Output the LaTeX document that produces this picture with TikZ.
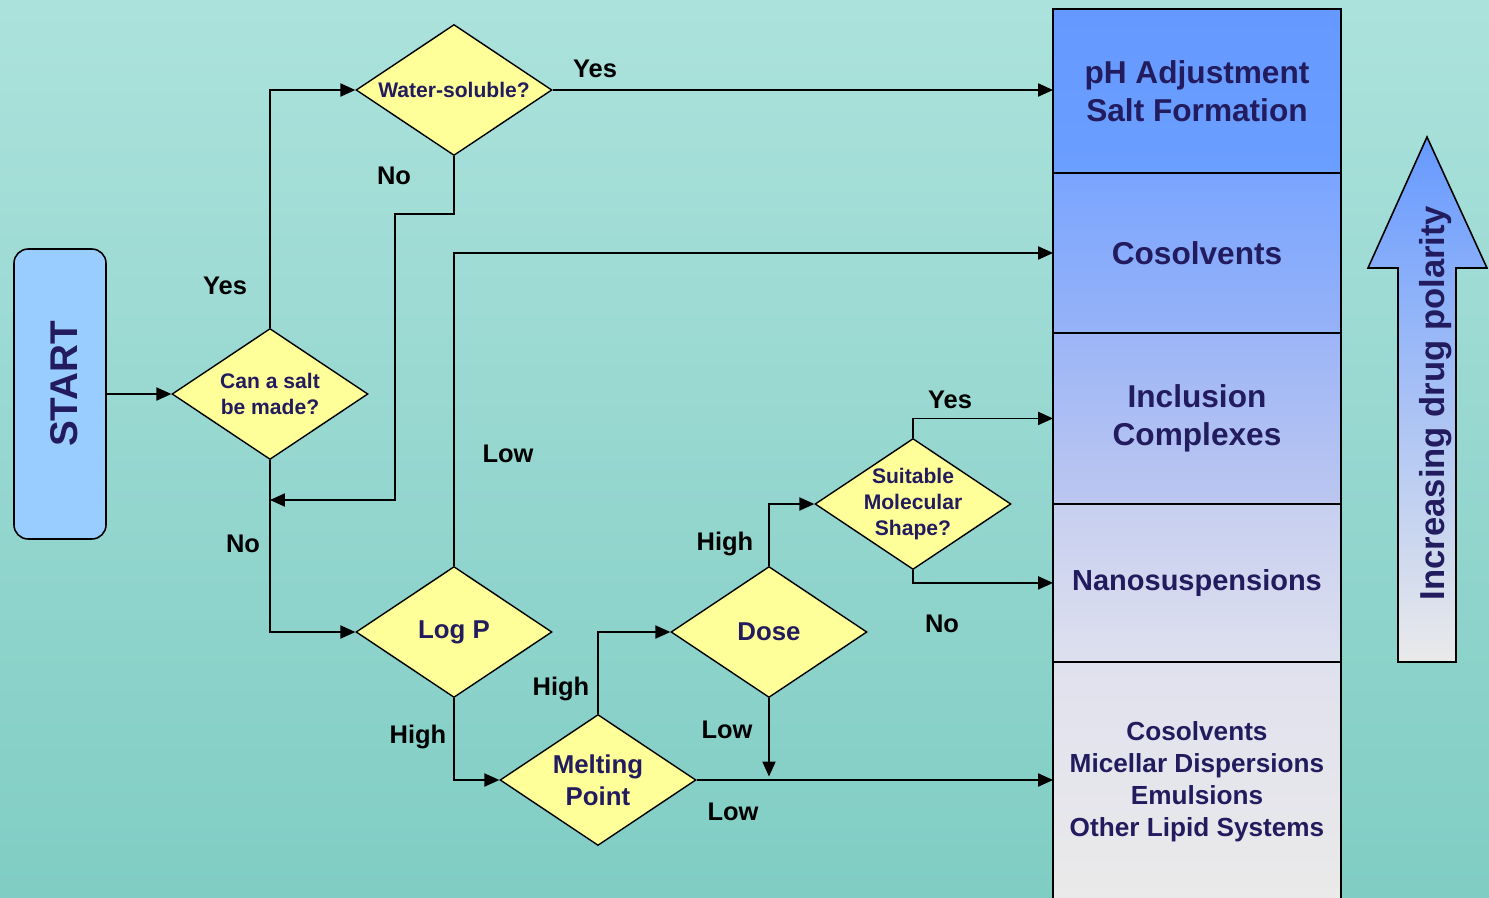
\documentclass[tikz,border=0pt]{standalone}
\usepackage{fontspec}
\setmainfont{Liberation Sans}
\usepackage{xcolor}
\usepackage{tikz}
\usetikzlibrary{arrows.meta,positioning,calc,shapes.geometric}
\definecolor{navytext}{RGB}{34,28,94}
\definecolor{qfill}{RGB}{255,255,153}
\definecolor{startfill}{RGB}{153,204,255}
\definecolor{bgtop}{RGB}{172,226,220}
\definecolor{bgbot}{RGB}{128,205,196}
\definecolor{polA}{RGB}{102,153,255}
\definecolor{polB}{RGB}{234,234,234}
\tikzset{
  decision/.style={draw, diamond, aspect=1.5, line width=0.8pt, fill=qfill, text=navytext, align=center, inner sep=0pt, minimum width=3.92cm, minimum height=2.62cm, font=\bfseries\fontsize{12}{14.6}\selectfont},
  bigdecision/.style={decision, font=\bfseries\fontsize{14.7}{18}\selectfont},
  startbox/.style={draw, rounded corners=8pt, line width=0.9pt, fill=startfill, text=navytext, minimum width=1.84cm, minimum height=5.8cm, font=\bfseries\fontsize{22}{26}\selectfont},
  methodbox/.style={draw, line width=1.1pt, outer sep=0pt, minimum width=5.76cm, align=center, text=navytext, font=\bfseries\fontsize{18}{21.5}\selectfont},
  tag/.style={font=\bfseries\fontsize{14.5}{17}\selectfont, text=black},
  line/.style={-{Triangle[length=8.5pt,width=7.5pt]}, line width=0.8pt}
}

\begin{document}
\begin{tikzpicture}[x=0.02cm, y=-0.02cm]
  % background
  \useasboundingbox (0,0) rectangle (1489,897);
  \fill[top color=bgtop, bottom color=bgbot] (0,0) rectangle (1489,897);

  % questions
  \node[startbox] (start) at (60,394) {\rotatebox{90}{\hspace{0.4cm}START\rule{0pt}{20.5pt}}};
  \node[decision] (can) at (270,394) {Can a salt\\be made?};
  \node[decision] (water) at (454,90) {Water-soluble?};
  \node[bigdecision] (logp) at (454,632) {Log P};
  \node[bigdecision] (dose) at (769,632) {Dose};
  \node[bigdecision] (melt) at (598,780) {Melting\\Point};
  \node[decision, inner sep=-6pt] (shape) at (913,504) {Suitable\\Molecular\\Shape?};

  % formulation approaches
  \node[methodbox, minimum height=3.28cm, top color=polA, bottom color={rgb,255:red,106;green,158;blue,255}] (ph) at (1197,91) {pH Adjustment\\Salt Formation};
  \node[methodbox, minimum height=3.2cm, below=0pt of ph, top color={rgb,255:red,122;green,165;blue,255}, bottom color={rgb,255:red,150;green,178;blue,247}] (cos) {Cosolvents};
  \node[methodbox, minimum height=3.42cm, below=0pt of cos, top color={rgb,255:red,156;green,181;blue,247}, bottom color={rgb,255:red,188;green,199;blue,240}] (incl) {Inclusion\\Complexes};
  \node[methodbox, minimum height=3.16cm, below=0pt of incl, top color={rgb,255:red,199;green,207;blue,240}, bottom color={rgb,255:red,221;green,224;blue,238}, font=\bfseries\fontsize{16.5}{20}\selectfont] (nano) {Nanosuspensions};
  \node[methodbox, minimum height=4.8cm, below=0pt of nano, top color={rgb,255:red,224;green,225;blue,238}, bottom color=polB, font=\bfseries\fontsize{14.9}{18.1}\selectfont] (lipid) {Cosolvents\\Micellar Dispersions\\Emulsions\\Other Lipid Systems};

  % polarity arrow
  \draw[line width=0.9pt, top color=polA, bottom color=polB] (1398,662) -- (1398,268) -- (1368,268) -- (1427,137) -- (1487,268) -- (1456,268) -- (1456,662) -- cycle;
  \node[rotate=90, text=navytext, font=\bfseries\fontsize{19.7}{22}\selectfont] (polarity) at (1436,403) {Increasing drug polarity};

  % connectors
  \coordinate (merge) at (270,500);
  \draw[line] (start) -- (can);
  \draw[line] (can.north) |- (water.west);
  \draw[line] (water.east) -- (water.east -| ph.west);
  \draw[line] (water.south) |- (395,214) |- (merge);
  \draw[line] (can.south) |- (logp.west);
  \draw[line] (logp.north) |- (cos.west);
  \draw[line] (logp.south) |- (melt.west);
  \draw[line] (melt.north) |- (dose.west);
  \draw[line] (melt.east) -- (melt.east -| lipid.west);
  \draw[line, shorten >=2pt] (dose.south) -- (dose.south |- melt.east);
  \draw[line] (dose.north) |- (shape.west);
  \draw[line] (shape.north) |- (incl.west);
  \draw[line] (shape.south) |- (nano.west);

  % answers
  \node[tag] (canyes) at (225,286) {Yes};
  \node[tag] (canno) at (243,544) {No};
  \node[tag] (wateryes) at (595,69) {Yes};
  \node[tag] (waterno) at (394,176) {No};
  \node[tag] (logplow) at (508,454) {Low};
  \node[tag] (logphigh) at (418,737) {High};
  \node[tag] (melthigh) at (561,689) {High};
  \node[tag] (meltlow) at (733,812) {Low};
  \node[tag] (doselow) at (727,730) {Low};
  \node[tag] (dosehigh) at (725,544) {High};
  \node[tag] (shapeyes) at (950,400) {Yes};
  \node[tag] (shapeno) at (942,624) {No};
\end{tikzpicture}
\end{document}
